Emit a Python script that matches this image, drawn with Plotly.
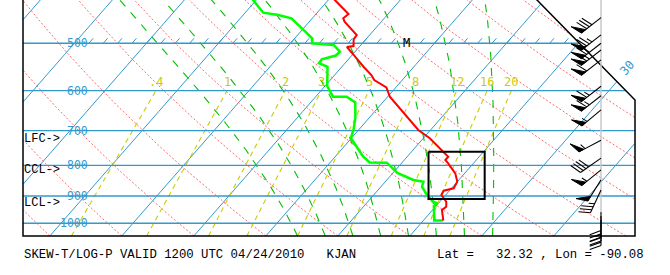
import numpy as np
import plotly.graph_objects as go

# ---------------- values ----------------
ISOBARS = [500, 600, 700, 800, 900, 1000]
ISOTHERMS = list(range(-110, 50, 10))
DRY_T1050 = list(range(-40, 130, 10))
MOIST_T1000 = [2, 6, 10, 14, 18, 22, 26, 30]
MIX_W = [0.4, 1, 2, 3, 5, 8, 12, 16, 20]
MIX_LABELS = [".4", "1", "2", "3", "5", "8", "12", "16", "20"]
TICKS_500 = list(range(-48, 22, 2))

temp_p = [410.4, 423.2, 446.6, 454.1, 460.1, 484.3, 492.4, 505.3, 507.2, 514.1, 523.0,
          547.2, 565.0, 575.9, 592.8, 614.2, 656.5, 698.2, 720.9, 759.0, 773.8, 783.7,
          793.7, 824.9, 852.0, 873.9, 882.0, 896.7, 920.2, 938.1, 950.1, 990.0]
temp_t = [-21.0, -19.1, -15.5, -15.7, -15.1, -11.8, -11.7, -10.9, -11.7, -10.8, -9.8,
          -7.0, -4.9, -3.9, -1.3, 0.3, 4.5, 8.3, 10.9, 14.4, 15.7, 15.7,
          16.5, 18.7, 20.0, 20.3, 19.2, 19.4, 20.9, 21.5, 21.3, 22.8]

dwpt_p = [410.4, 423.2, 444.4, 448.4, 454.1, 481.1, 490.4, 500.0, 503.3, 516.5, 524.1,
          531.8, 540.0, 547.2, 589.4, 614.2, 614.2, 628.0, 666.7, 698.2, 720.0, 742.5,
          773.8, 791.3, 791.9, 823.9, 846.5, 852.0, 868.6, 896.7, 920.2, 926.6, 935.6,
          989.3, 989.3]
dwpt_t = [-32.3, -30.4, -27.5, -25.1, -22.9, -18.9, -17.6, -17.0, -13.8, -12.1, -12.2,
          -13.7, -13.6, -12.0, -9.7, -7.6, -5.7, -3.8, -1.9, -0.7, -0.1, 1.6,
          3.9, 5.5, 7.9, 10.6, 13.7, 15.3, 15.7, 17.4, 19.1, 19.9, 19.7,
          21.5, 22.7]

barb_p = [453, 484, 500, 513, 533, 590, 612, 646, 726, 778, 814, 846, 880, 958, 972, 989]
barb_dir = [232, 232, 232, 232, 232, 232, 232, 230, 242, 235, 231, 212, 205, 180, 180, 180]
barb_kt = [80, 75, 70, 65, 60, 65, 65, 55, 55, 40, 55, 50, 35, 30, 25, 20]

level_labels = ["LFC->", "CCL->", "LCL->"]
level_p = [722, 815, 925]

box_x = [22.6, 30.4]      # skewed-temperature span of the highlight box
box_p = [759, 911]

marker_label = "M"
marker_p = 500
marker_x = 19.5

title_text = "SKEW-T/LOG-P VALID 1200 UTC 04/24/2010   KJAN"
loc_text = "Lat =   32.32 , Lon = -90.08"

# ---------------- skew-T projection ----------------
W, H = 670, 275
PX0, PXC, SKEW = 265.8, 7.2, 0.875
Y1000, YLN, YBOT = 223.3, 259.7, 236.0

def y_of_p(p):
    return Y1000 + YLN * np.log(np.asarray(p, float) / 1000.0)

def p_of_y(y):
    return 1000.0 * np.exp((np.asarray(y, float) - Y1000) / YLN)

def skew(T, p):
    return np.asarray(T, float) + SKEW * (YBOT - y_of_p(p)) / PXC

def px_of_xd(xd):
    return PX0 + PXC * np.asarray(xd, float)

def xd_of_px(px):
    return (np.asarray(px, float) - PX0) / PXC

def inside(px, py):
    return (px >= 23) & (py <= 236.05) & (px <= 635) & (px - 0.98 * py <= 537)

def clipped(T, p):
    T = np.asarray(T, float); p = np.asarray(p, float)
    xd = skew(T, p)
    m = inside(px_of_xd(xd), y_of_p(p))
    xs, ys, run = [], [], False
    for i in range(len(p)):
        if m[i]:
            xs.append(float(xd[i])); ys.append(float(p[i])); run = True
        elif run:
            xs.append(None); ys.append(None); run = False
    if run:
        xs.append(None); ys.append(None)
    return xs, ys

P_FINE = np.exp(np.linspace(np.log(1050.0), np.log(380.0), 900))

def moist_adiabat(T0, p0, P):
    Rd, cp, Lv, eps = 287.04, 1005.7, 2.501e6, 0.622
    def rate(Tk, p):
        tc = Tk - 273.15
        es = 6.112 * np.exp(17.67 * tc / (tc + 243.5))
        rs = eps * es / (p - es)
        return (Rd * Tk + Lv * rs) / (cp + Lv * Lv * rs * eps / (Rd * Tk * Tk))
    def rk(Tk, pa, pb):
        x0, x1 = np.log(pa), np.log(pb)
        h = x1 - x0
        k1 = rate(Tk, np.exp(x0))
        k2 = rate(Tk + h * k1 / 2, np.exp(x0 + h / 2))
        k3 = rate(Tk + h * k2 / 2, np.exp(x0 + h / 2))
        k4 = rate(Tk + h * k3, np.exp(x1))
        return Tk + h * (k1 + 2 * k2 + 2 * k3 + k4) / 6
    out = np.empty_like(P)
    up = np.where(P <= p0)[0]
    dn = np.where(P > p0)[0]
    Tk, pc = T0 + 273.15, p0
    for i in up:
        Tk = rk(Tk, pc, P[i]); pc = P[i]; out[i] = Tk
    Tk, pc = T0 + 273.15, p0
    for i in dn[::-1]:
        Tk = rk(Tk, pc, P[i]); pc = P[i]; out[i] = Tk
    return out - 273.15

def td_from_w(w, p):
    p = np.asarray(p, float)
    e = (w / 1000.0) * p / (0.622 + w / 1000.0)
    a = np.log(e / 6.112)
    return 243.5 * a / (17.67 - a)

BLUE = "#3399cc"
fig = go.Figure()

def add(xs, ys, color, width, dash=None, fill=None, fillcolor=None):
    fig.add_trace(go.Scatter(x=xs, y=ys, mode="lines",
                             line=dict(color=color, width=width, dash=dash),
                             fill=fill, fillcolor=fillcolor,
                             hoverinfo="skip", showlegend=False, connectgaps=False))

def family(curves):
    X, Y = [], []
    for T, p in curves:
        xs, ys = clipped(T, p)
        X += xs; Y += ys
    return X, Y

# isotherms
X, Y = family([(np.full_like(P_FINE, t), P_FINE) for t in ISOTHERMS])
add(X, Y, BLUE, 1)
# dry adiabats
X, Y = family([((tb + 273.15) * (P_FINE / 1050.0) ** 0.2857 - 273.15, P_FINE) for tb in DRY_T1050])
add(X, Y, "#ff6a6a", 1, dash="2px,2px")
# mixing ratio lines
P_MR = P_FINE[P_FINE >= 600.0]
X, Y = family([(td_from_w(w, P_MR), P_MR) for w in MIX_W])
add(X, Y, "#cccc00", 1.1, dash="5px,4px")
# moist adiabats
X, Y = family([(moist_adiabat(t, 1000.0, P_FINE), P_FINE) for t in MOIST_T1000])
add(X, Y, "#00c000", 1.1, dash="8px,8px")

# isobars
X, Y = [], []
for p in ISOBARS:
    yy = float(y_of_p(p))
    xr = min(635.0, 537.0 + 0.98 * yy)
    X += [float(xd_of_px(23)), float(xd_of_px(xr)), None]
    Y += [p, p, None]
add(X, Y, BLUE, 1.4)

# short isotherm ticks above 500 hPa
p_tick = float(p_of_y(y_of_p(500) - 5))
X, Y = family([(np.array([t, t]), np.array([500.0, p_tick])) for t in TICKS_500])
add(X, Y, BLUE, 1)

# frame
frame_px = [(23, -5), (23, 236), (635, 236), (635, 100), (527.2, -10)]
add([float(xd_of_px(a)) for a, b in frame_px], [float(p_of_y(b)) for a, b in frame_px], "black", 1.5)

# profiles
add(list(skew(dwpt_t, dwpt_p)), dwpt_p, "#00ff00", 2.5)
add(list(skew(temp_t, temp_p)), temp_p, "#ff0000", 2)

# highlight box
add([box_x[0], box_x[1], box_x[1], box_x[0], box_x[0]],
    [box_p[0], box_p[0], box_p[1], box_p[1], box_p[0]], "black", 2)

# wind barbs
BX = 601.0
add([float(xd_of_px(BX))] * 2, [float(p_of_y(-5)), float(p_of_y(214))], "#c8c8c8", 1.5)

def barb(bx, by, direc, spd, L=25.0, FL=12.0, SP=3.3, PW=5.5):
    th = np.radians(direc)
    d = np.array([np.sin(th), -np.cos(th)])
    f = np.array([np.cos(th), np.sin(th)])
    tilt = np.radians(20)
    v = FL * (f * np.cos(tilt) + d * np.sin(tilt))
    base = np.array([bx, by]); tip = base + L * d
    lines = [[base, tip]]; polys = []
    s = int(round(spd / 5.0)) * 5
    n50 = s // 50; s -= 50 * n50
    n10 = s // 10; s -= 10 * n10
    n5 = s // 5
    pos = 0.0
    for _ in range(n50):
        a = tip - d * pos; b = tip - d * (pos + PW)
        polys.append([a, a + v, b, a])
        pos += PW + 1.5
    for _ in range(n10):
        a = tip - d * pos
        lines.append([a, a + v]); pos += SP
    for _ in range(n5):
        if pos == 0:
            pos = SP
        a = tip - d * pos
        lines.append([a, a + 0.5 * v]); pos += SP
    return lines, polys

LX, LY, QX, QY = [], [], [], []
for p, dr, kt in zip(barb_p, barb_dir, barb_kt):
    lines, polys = barb(BX, float(y_of_p(p)), dr, kt)
    for seg in lines:
        LX += [float(xd_of_px(pt[0])) for pt in seg] + [None]
        LY += [float(p_of_y(pt[1])) for pt in seg] + [None]
    for poly in polys:
        QX += [float(xd_of_px(pt[0])) for pt in poly] + [None]
        QY += [float(p_of_y(pt[1])) for pt in poly] + [None]
add(LX, LY, "black", 1.1)
add(QX, QY, "black", 1, fill="toself", fillcolor="black")

# ---------------- text ----------------
FONT = "DejaVu Sans Mono"
TFONT = "Liberation Mono"
ann = []
for p in ISOBARS:
    ann.append(dict(x=float(xd_of_px(89.5)), y=np.log10(p), xref="x", yref="y", text=str(p),
                    showarrow=False, xanchor="right", yanchor="middle",
                    font=dict(family=FONT, size=11.5, color=BLUE)))
p_lab = float(p_of_y(82))
for w, lab in zip(MIX_W, MIX_LABELS):
    ann.append(dict(x=float(skew(td_from_w(w, 600.0), 600.0)), y=np.log10(p_lab), xref="x", yref="y",
                    text=lab, showarrow=False, xanchor="center", yanchor="middle",
                    font=dict(family=FONT, size=12, color="#cccc00")))
ann.append(dict(x=float(xd_of_px(627)), y=np.log10(float(p_of_y(68))), xref="x", yref="y", text="30",
                showarrow=False, textangle=-49, font=dict(family=FONT, size=12, color=BLUE)))
ann.append(dict(x=marker_x, y=np.log10(marker_p), xref="x", yref="y", text=marker_label,
                showarrow=False, font=dict(family=FONT, size=12, color="black")))
for lab, p in zip(level_labels, level_p):
    ann.append(dict(x=float(xd_of_px(61.5)), y=np.log10(p), xref="x", yref="y", text=lab,
                    showarrow=False, xanchor="right", yanchor="middle",
                    font=dict(family=TFONT, size=12, color="black")))
ann.append(dict(x=22 / W, y=1 - 255 / H, xref="paper", yref="paper", text=title_text.replace(" ", "\u00a0"),
                showarrow=False, xanchor="left", yanchor="middle",
                font=dict(family=TFONT, size=12.3, color="black")))
ann.append(dict(x=435 / W, y=1 - 255 / H, xref="paper", yref="paper", text=loc_text.replace(" ", "\u00a0"),
                showarrow=False, xanchor="left", yanchor="middle",
                font=dict(family=TFONT, size=12.3, color="black")))

fig.update_layout(
    width=W, height=H, margin=dict(l=0, r=0, t=0, b=0),
    paper_bgcolor="white", plot_bgcolor="white", showlegend=False,
    xaxis=dict(range=[float(xd_of_px(0)), float(xd_of_px(W))], visible=False, fixedrange=True),
    yaxis=dict(type="log", range=[float(np.log10(p_of_y(H))), float(np.log10(p_of_y(0)))],
               visible=False, fixedrange=True),
    annotations=ann,
)
fig.write_html("out.html")
